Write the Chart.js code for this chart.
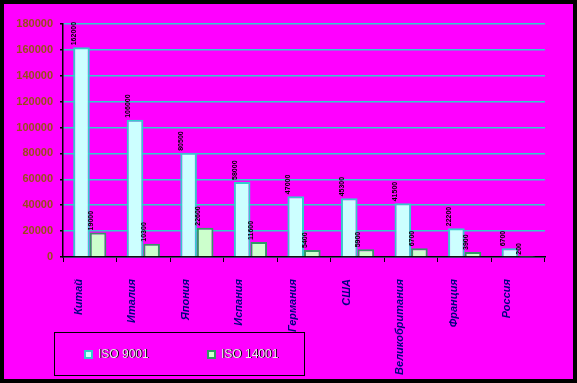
<!DOCTYPE html>
<html>
<head>
<meta charset="utf-8">
<script src="https://cdn.jsdelivr.net/npm/chart.js@4/dist/chart.umd.min.js"></script>
<style>
  html, body { margin: 0; padding: 0; background: #000; width: 577px; height: 383px; overflow: hidden; }
  #wrap { position: absolute; left: 4px; top: 4px; width: 569px; height: 375px; background: #FF00FF; }
  #c { position: absolute; left: 0; top: 0; }
  #legend { position: absolute; left: 50px; top: 328px; width: 251px; height: 44px; border: 1.5px solid #000; box-sizing: border-box; font-family: "Liberation Sans", Arial, sans-serif; font-size: 12px; color: #e8e8e8; text-shadow: 1px 0 0 #000; }
  .item { position: absolute; top: 14px; white-space: nowrap; }
  .sw { display: inline-block; width: 5px; height: 5px; border: 2px solid; vertical-align: -1px; margin-right: 5px; }
</style>
</head>
<body>
<div id="wrap">
  <canvas id="c" width="569" height="375"></canvas>
  <div id="legend"></div>
</div>
<script>
const categories = ["Китай", "Италия", "Япония", "Испания", "Германия", "США", "Великобритания", "Франция", "Россия"];
const iso9001 = [162000, 106000, 80500, 58000, 47000, 45300, 41500, 22200, 6700];
const iso14001 = [19000, 10300, 22600, 11600, 5400, 5900, 6700, 3900, 200];
const seriesNames = ["ISO 9001", "ISO 14001"];
const yTicks = [0, 20000, 40000, 60000, 80000, 100000, 120000, 140000, 160000, 180000];

const fills = ["#CCFFFF", "#CCFFCC"];
const borders = ["#33CCCC", "#339966"];

const valueLabels = {
  id: "valueLabels",
  afterDatasetsDraw(chart) {
    const ctx = chart.ctx;
    ctx.save();
    ctx.font = "bold 7px 'Liberation Sans', Arial, sans-serif";
    ctx.fillStyle = "#000";
    ctx.textAlign = "left";
    ctx.textBaseline = "middle";
    chart.data.datasets.forEach((ds, di) => {
      chart.getDatasetMeta(di).data.forEach((bar, i) => {
        const x = bar.x - bar.width / 2 + 1;
        const y = bar.y - 2;
        ctx.save();
        ctx.translate(x, y);
        ctx.rotate(-Math.PI / 2);
        ctx.fillText(String(ds.data[i]), 0, 0);
        ctx.restore();
      });
    });
    ctx.restore();
  }
};

const chart = new Chart(document.getElementById("c"), {
  type: "bar",
  data: {
    labels: categories,
    datasets: [
      { label: seriesNames[0], data: iso9001, backgroundColor: fills[0], borderColor: borders[0], borderWidth: 2 },
      { label: seriesNames[1], data: iso14001, backgroundColor: fills[1], borderColor: borders[1], borderWidth: 2 }
    ]
  },
  options: {
    responsive: false,
    animation: false,
    maintainAspectRatio: false,
    categoryPercentage: 0.62,
    barPercentage: 1.0,
    layout: { padding: { top: 20, right: 28, left: 0, bottom: 0 } },
    plugins: { legend: { display: false }, tooltip: { enabled: false } },
    scales: {
      x: {
        afterFit: s => { s.height = 122; },
        grid: { drawOnChartArea: false, tickLength: 5, tickColor: "#000", offset: true },
        border: { color: "#000", width: 1.5 },
        ticks: {
          maxRotation: 90, minRotation: 90, padding: 17, labelOffset: -11, autoSkip: false,
          color: "#000080",
          font: { family: "'Liberation Sans', Arial, sans-serif", size: 11, style: "italic", weight: "bold" }
        }
      },
      y: {
        min: 0, max: 180000,
        afterFit: s => { s.width = 59; },
        afterBuildTicks: s => { s.ticks = yTicks.map(v => ({ value: v })); },
        grid: { color: "#33CCCC", lineWidth: 1.5, tickLength: 3, tickColor: "#000" },
        border: { color: "#000", width: 1.5 },
        ticks: {
          padding: 7,
          color: "#994d1a",
          callback: v => String(v),
          font: { family: "'Liberation Sans', Arial, sans-serif", size: 11, weight: "bold" }
        }
      }
    }
  },
  plugins: [valueLabels]
});

const lg = document.getElementById("legend");
const lefts = [29, 152];
seriesNames.forEach((n, i) => {
  const d = document.createElement("div");
  d.className = "item";
  d.style.left = lefts[i] + "px";
  const sw = document.createElement("span");
  sw.className = "sw";
  sw.style.background = fills[i];
  sw.style.borderColor = borders[i];
  d.appendChild(sw);
  d.appendChild(document.createTextNode(n));
  lg.appendChild(d);
});
</script>
</body>
</html>
